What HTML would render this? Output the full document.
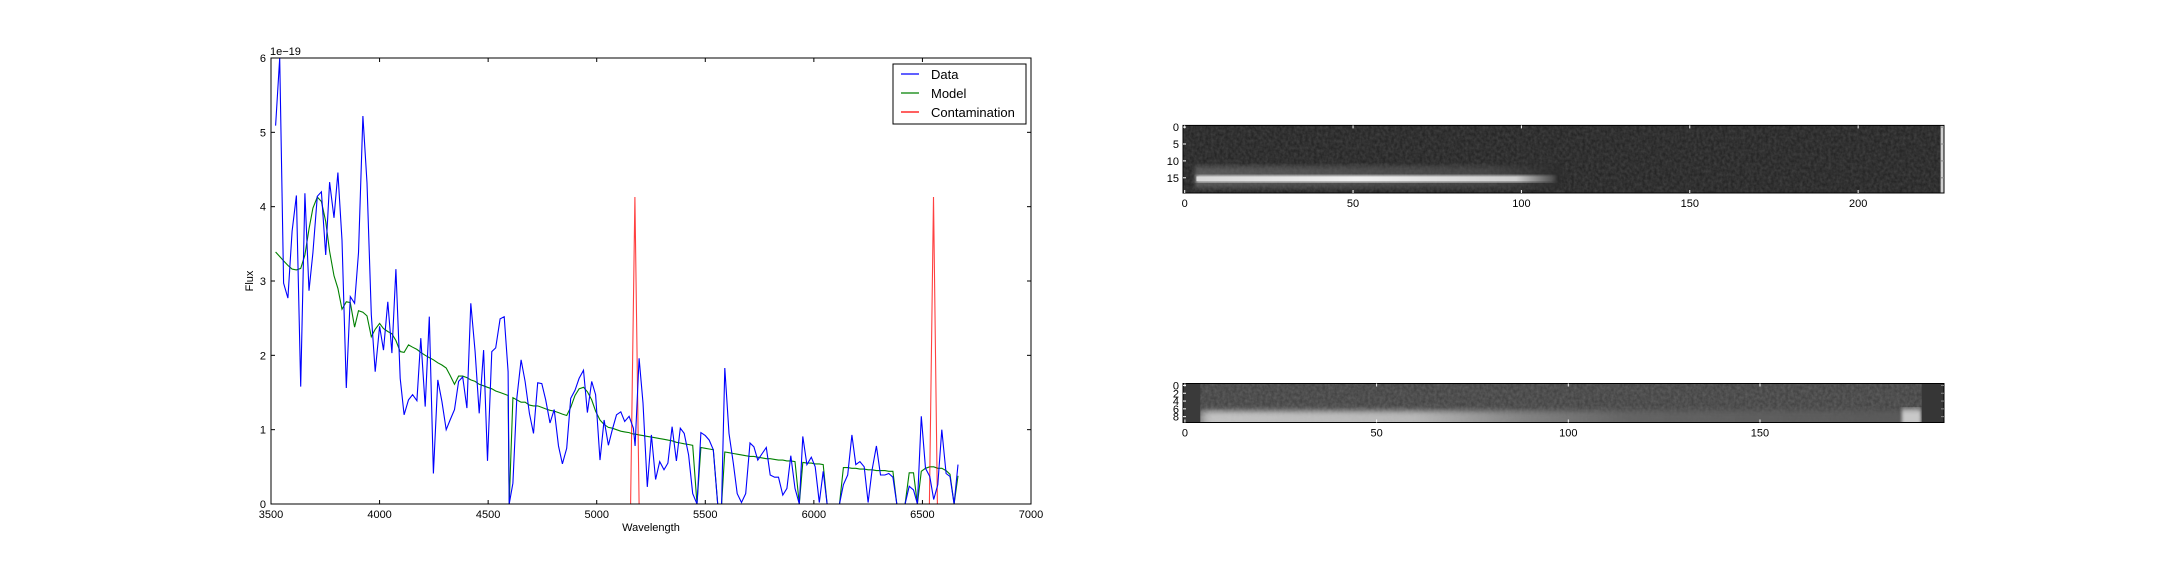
<!DOCTYPE html>
<html><head><meta charset="utf-8"><style>
html,body{margin:0;padding:0;background:#fff;width:2160px;height:576px;overflow:hidden}
svg text{font-family:"Liberation Sans","DejaVu Sans",sans-serif;fill:#000}
</style></head><body>
<svg id="fig" width="2160" height="576" viewBox="0 0 2160 576" xmlns="http://www.w3.org/2000/svg">
<defs>
<filter id="noise1" x="0" y="0" width="100%" height="100%">
<feTurbulence type="fractalNoise" baseFrequency="0.35 0.3" numOctaves="2" seed="3" result="t"/>
<feColorMatrix in="t" type="matrix" values="0 0 0 0 1  0 0 0 0 1  0 0 0 0 1  0.5 0 0 0 -0.1"/>
</filter>
<filter id="blurv"><feGaussianBlur stdDeviation="1.5 3"/></filter>
<filter id="blurw" x="-10%" y="-50%" width="120%" height="200%"><feGaussianBlur stdDeviation="6 3"/></filter>
<linearGradient id="streak" x1="0" x2="1" y1="0" y2="0">
<stop offset="0" stop-color="#d8d8d8"/><stop offset="0.45" stop-color="#f0f0f0"/><stop offset="0.9" stop-color="#cfcfcf"/><stop offset="1" stop-color="#555"/>
</linearGradient>
<linearGradient id="glow" x1="0" x2="1" y1="0" y2="0">
<stop offset="0" stop-color="#777"/><stop offset="0.8" stop-color="#555"/><stop offset="1" stop-color="#2a2a2a"/>
</linearGradient>
<linearGradient id="bot2" x1="0" x2="1" y1="0" y2="0">
<stop offset="0" stop-color="#d0d0d0"/><stop offset="0.3" stop-color="#c4c4c4"/><stop offset="0.45" stop-color="#8a8a8a"/><stop offset="0.6" stop-color="#666"/><stop offset="1" stop-color="#5a5a5a"/>
</linearGradient>
<clipPath id="clipMain"><rect x="271" y="58" width="760" height="446"/></clipPath>
<clipPath id="clipImg2"><rect x="1183" y="383.5" width="761" height="39"/></clipPath>
</defs>
<g id="main"></g>
<g id="img1"></g>
<g id="img2"></g>
</svg>
<script>
const wavelengths=[3521,3540,3558,3578,3597,3617,3637,3656,3675,3693,3713,3732,3752,3770,3790,3808,3827,3847,3865,3885,3903,3923,3942,3962,3980,4000,4018,4038,4057,4075,4095,4113,4133,4152,4172,4190,4210,4229,4248,4268,4287,4307,4325,4345,4364,4383,4402,4420,4440,4459,4479,4497,4517,4535,4555,4574,4592,4597,4614,4632,4652,4670,4690,4709,4728,4747,4765,4785,4804,4824,4842,4862,4880,4900,4919,4939,4957,4977,4995,5015,5034,5054,5072,5091,5111,5129,5149,5169,5177,5195,5213,5233,5252,5271,5290,5310,5328,5347,5367,5385,5403,5423,5442,5462,5480,5500,5518,5537,5557,5575,5590,5609,5629,5647,5667,5686,5706,5724,5742,5762,5781,5799,5819,5837,5857,5876,5894,5913,5933,5949,5968,5988,6006,6025,6043,6061,6080,6099,6118,6136,6156,6175,6193,6212,6232,6250,6268,6288,6307,6327,6345,6364,6382,6402,6420,6439,6459,6477,6495,6514,6534,6552,6571,6589,6609,6627,6646,6664];
const dataFlux=[5.09,6.0,2.97,2.77,3.67,4.15,1.58,4.18,2.87,3.38,4.14,4.20,3.35,4.33,3.85,4.46,3.55,1.56,2.79,2.70,3.38,5.22,4.32,2.55,1.78,2.39,2.07,2.72,2.03,3.16,1.69,1.20,1.40,1.47,1.39,2.23,1.31,2.52,0.41,1.67,1.38,1.00,1.13,1.27,1.65,1.71,1.29,2.70,2.05,1.22,2.07,0.58,2.05,2.10,2.49,2.52,1.78,0.00,0.28,1.42,1.94,1.65,1.22,0.95,1.63,1.62,1.40,1.09,1.27,0.78,0.54,0.75,1.42,1.53,1.69,1.80,1.23,1.65,1.47,0.59,1.13,0.79,1.00,1.20,1.24,1.11,1.18,1.02,0.78,1.96,1.36,0.23,0.93,0.33,0.57,0.46,0.55,1.04,0.58,1.02,0.95,0.66,0.14,0.00,0.96,0.92,0.86,0.73,0.00,0.00,1.83,0.95,0.55,0.14,0.02,0.14,0.82,0.77,0.59,0.68,0.76,0.39,0.36,0.36,0.12,0.21,0.65,0.21,0.00,0.91,0.53,0.63,0.50,0.02,0.44,0.00,0.00,0.00,0.00,0.26,0.39,0.93,0.53,0.57,0.50,0.02,0.46,0.78,0.39,0.39,0.41,0.36,0.00,0.00,0.00,0.24,0.19,0.00,1.18,0.48,0.37,0.06,0.26,1.00,0.41,0.37,0.00,0.53];
const modelFlux=[3.39,3.33,3.27,3.21,3.16,3.15,3.17,3.35,3.70,3.98,4.13,4.07,3.80,3.40,3.07,2.90,2.62,2.72,2.71,2.38,2.60,2.58,2.53,2.25,2.35,2.43,2.36,2.32,2.29,2.20,2.05,2.04,2.14,2.11,2.08,2.04,2.00,1.97,1.94,1.90,1.87,1.83,1.73,1.61,1.72,1.72,1.70,1.67,1.65,1.61,1.59,1.57,1.55,1.52,1.50,1.48,1.46,0.00,1.43,1.40,1.37,1.37,1.33,1.32,1.32,1.30,1.28,1.26,1.25,1.23,1.21,1.19,1.30,1.46,1.55,1.57,1.51,1.40,1.25,1.13,1.07,1.03,1.02,1.00,0.98,0.97,0.96,0.94,0.94,0.93,0.92,0.91,0.90,0.89,0.88,0.87,0.86,0.85,0.83,0.82,0.81,0.80,0.79,0.00,0.76,0.75,0.74,0.73,0.00,0.00,0.70,0.69,0.68,0.67,0.66,0.65,0.64,0.64,0.63,0.62,0.61,0.61,0.60,0.59,0.59,0.58,0.58,0.57,0.00,0.56,0.55,0.55,0.54,0.54,0.53,0.00,0.00,0.00,0.00,0.49,0.49,0.48,0.48,0.47,0.47,0.46,0.46,0.45,0.45,0.45,0.44,0.44,0.00,0.00,0.00,0.42,0.42,0.00,0.44,0.48,0.50,0.50,0.48,0.48,0.45,0.40,0.00,0.38];
const contamWl=[3521,5156,5176,5195,6532,6551,6569,6664];
const contamFlux=[0,0,4.13,0,0,4.13,0,0];
const xTicks=[3500,4000,4500,5000,5500,6000,6500,7000];
const yTicks=[0,1,2,3,4,5,6];
const img1XTicks=[0,50,100,150,200];
const img1YTicks=[0,5,10,15];
const img2XTicks=[0,50,100,150];
const img2YTicks=[0,2,4,6,8];

const NS="http://www.w3.org/2000/svg";
function mk(parent,tag,attrs,text){const e=document.createElementNS(NS,tag);for(const k in attrs)e.setAttribute(k,attrs[k]);if(text!==undefined)e.textContent=text;parent.appendChild(e);return e;}

const L=271,R=1031,T=58,B=504;
const sx=w=>L+(w-3500)*(R-L)/3500;
const sy=v=>B-v*(B-T)/6;
const main=document.getElementById('main');
function line(xs,ys,color,name,op){
  const p=mk(main,'polyline',{points:xs.map((x,i)=>sx(x).toFixed(1)+','+sy(ys[i]).toFixed(1)).join(' '),fill:'none',stroke:color,'stroke-width':1.1,'clip-path':'url(#clipMain)','stroke-opacity':op||1});
  
  
}
line(wavelengths,modelFlux,'#008000','model-line');
line(contamWl,contamFlux,'#ff0000','contamination-line',0.75);
line(wavelengths,dataFlux,'#0000ff','data-line');
const frame=mk(main,'rect',{x:L,y:T,width:R-L,height:B-T,fill:'none',stroke:'#000','stroke-width':1});


xTicks.forEach(t=>{const x=sx(t);
  mk(main,'line',{x1:x,x2:x,y1:B,y2:B-4,stroke:'#000'});mk(main,'line',{x1:x,x2:x,y1:T,y2:T+4,stroke:'#000'});
  const tx=mk(main,'text',{x:x,y:B+14,'font-size':11,'text-anchor':'middle'},t);
  
  
});
yTicks.forEach(t=>{const y=sy(t);
  mk(main,'line',{x1:L,x2:L+4,y1:y,y2:y,stroke:'#000'});mk(main,'line',{x1:R,x2:R-4,y1:y,y2:y,stroke:'#000'});
  const tx=mk(main,'text',{x:L-5,y:y+4,'font-size':11,'text-anchor':'end'},t);
  
  
});
let e=mk(main,'text',{x:270,y:55,'font-size':11},'1e\u221219');


e=mk(main,'text',{x:651,y:531,'font-size':11,'text-anchor':'middle'},'Wavelength');


e=mk(main,'text',{x:253,y:281,'font-size':11,'text-anchor':'middle',transform:'rotate(-90 253 281)'},'Flux');


const lg=mk(main,'g',{});


mk(lg,'rect',{x:893,y:64,width:133,height:60,fill:'#fff',stroke:'#000'});
[['Data','#0000ff'],['Model','#008000'],['Contamination','#ff0000']].forEach((d,i)=>{
  const y=74+i*19;
  const g=mk(lg,'g',{});
  
  
  mk(g,'line',{x1:901,x2:919,y1:y,y2:y,stroke:d[1],'stroke-width':1.2});
  mk(g,'text',{x:931,y:y+5,'font-size':13},d[0]);
});

function axesFrame(g,x0,y0,x1,y1,xt,yt,xs,ys){
  mk(g,'rect',{x:x0,y:y0,width:x1-x0,height:y1-y0,fill:'none',stroke:'#000'});
  xt.forEach(t=>{const x=xs(t);mk(g,'line',{x1:x,x2:x,y1:y1,y2:y1-3,stroke:'#fff'});mk(g,'line',{x1:x,x2:x,y1:y0,y2:y0+3,stroke:'#fff'});
    const tx=mk(g,'text',{x:x,y:y1+14,'font-size':11,'text-anchor':'middle'},t);
    
    });
  yt.forEach(t=>{const y=ys(t);mk(g,'line',{x1:x0,x2:x0+3,y1:y,y2:y,stroke:'#fff'});mk(g,'line',{x1:x1,x2:x1-3,y1:y,y2:y,stroke:'#888'});
    const tx=mk(g,'text',{x:x0-4,y:y+4,'font-size':11,'text-anchor':'end'},t);
    
    });
}
{
 const g=document.getElementById('img1');
 const x0=1183,x1=1944,y0=125.4,y1=193;
 const cx=c=>x0+(c+0.5)*(x1-x0)/226, cy=r=>y0+(r+0.5)*(y1-y0)/20;
 mk(g,'rect',{x:x0,y:y0,width:x1-x0,height:y1-y0,fill:'#262626'});
 mk(g,'rect',{x:x0,y:y0,width:x1-x0,height:y1-y0,fill:'#fff',filter:'url(#noise1)',opacity:0.35});
 mk(g,'rect',{x:cx(3),y:cy(11.5),width:cx(112)-cx(3),height:cy(18)-cy(11.5),fill:'url(#glow)',filter:'url(#blurv)',opacity:0.6});
 mk(g,'rect',{x:cx(3.5),y:cy(14.3),width:cx(110)-cx(3.5),height:cy(16.3)-cy(14.3),fill:'url(#streak)',filter:'url(#blurv)'});
 mk(g,'rect',{x:cx(3.5),y:cy(14.6),width:cx(109)-cx(3.5),height:cy(16)-cy(14.6),fill:'url(#streak)'});
 mk(g,'rect',{x:cx(224.5),y:y0,width:x1-cx(224.5),height:y1-y0,fill:'#cfcfcf'});
 axesFrame(g,x0,y0,x1,y1,img1XTicks,img1YTicks,cx,cy);
}
{
 const g=document.getElementById('img2');
 const x0=1183,x1=1944,y0=383.5,y1=422.5;
 const cx=c=>x0+(c+0.5)*(x1-x0)/198.5, cy=r=>y0+(r+0.5)*(y1-y0)/10;
 const cg=mk(g,'g',{'clip-path':'url(#clipImg2)'});
 mk(cg,'rect',{x:x0,y:y0,width:x1-x0,height:y1-y0,fill:'#444'});
 mk(cg,'rect',{x:x0,y:y0,width:x1-x0,height:y1-y0,fill:'#fff',filter:'url(#noise1)',opacity:0.4});
 mk(cg,'rect',{x:cx(4),y:cy(6.5),width:cx(190)-cx(4),height:y1-cy(6.5)+6,fill:'url(#bot2)',filter:'url(#blurw)',opacity:0.9});
 mk(cg,'rect',{x:cx(187),y:cy(6),width:cx(192)-cx(187),height:y1-cy(6)+4,fill:'#c8c8c8',filter:'url(#blurv)'});
 mk(cg,'rect',{x:x0,y:y0,width:cx(4)-x0,height:y1-y0,fill:'#3a3a3a'});
 mk(cg,'rect',{x:cx(192.2),y:y0,width:x1-cx(192.2),height:y1-y0,fill:'#363636'});
 axesFrame(g,x0,y0,x1,y1,img2XTicks,img2YTicks,cx,cy);
}
</script>
</body></html>
